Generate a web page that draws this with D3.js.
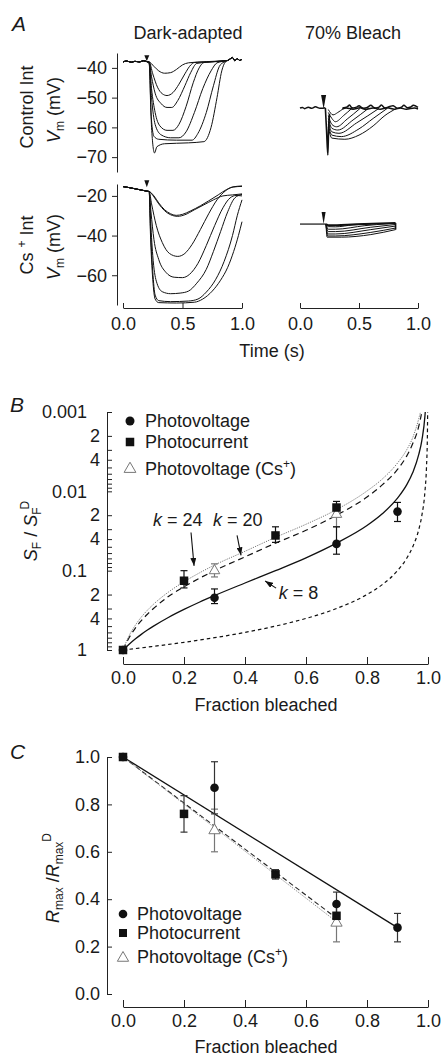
<!DOCTYPE html>
<html lang="en">
<head>
<meta charset="UTF-8">
<title>Bleaching and rod sensitivity</title>
<style>
  body { margin: 0; background: #fff; }
  svg text { font-family: "Liberation Sans", Arial, Helvetica, sans-serif; font-size: 18px; fill: #1a1a1a; }
</style>
</head>
<body>
<div id="chart-container"></div>
<script src="https://d3js.org/d3.v7.min.js"></script>
<script>
// ---------- panel A : voltage traces, [time (s), Vm (mV)] ----------
const TIME_TICKS = [0, 0.5, 1];
const CTRL_TICKS = [-40, -50, -60, -70];
const CS_TICKS = [-20, -40, -60];
const FLASH_T = 0.2;

const ctrlPre = [[0, -38], [0.03, -37.7], [0.07, -38.1], [0.1, -37.8], [0.14, -38], [0.17, -37.6], [0.2, -37.9]];
const ctrlTail = [[0.88, -37.5], [0.9, -37], [0.92, -36.5], [0.94, -37.6], [0.96, -36.9], [0.98, -37.5], [1.0, -37.1]];
const ctrlDark = [
  [[0.22, -38], [0.26, -39.5], [0.3, -41], [0.35, -41.8], [0.4, -41.6], [0.45, -40.5], [0.5, -39], [0.55, -38.3], [0.7, -37.9]],
  [[0.22, -38], [0.25, -42], [0.29, -46.5], [0.33, -48.7], [0.37, -49.3], [0.42, -48.3], [0.47, -45.5], [0.52, -42], [0.57, -39], [0.6, -38.2], [0.75, -37.9]],
  [[0.22, -38], [0.24, -43], [0.27, -48.5], [0.32, -52], [0.37, -53.3], [0.41, -53.3], [0.46, -51], [0.52, -46], [0.57, -41.5], [0.62, -38.5], [0.78, -37.9]],
  [[0.22, -38], [0.24, -47], [0.27, -55], [0.31, -59.5], [0.37, -61], [0.42, -61], [0.47, -59], [0.53, -53], [0.59, -45], [0.64, -40], [0.68, -38.2], [0.8, -37.8]],
  [[0.22, -38.5], [0.24, -50], [0.27, -59], [0.32, -62.5], [0.4, -63.5], [0.47, -63.5], [0.53, -61.5], [0.6, -55], [0.67, -47], [0.74, -41], [0.79, -38.3], [0.84, -37.8]],
  [[0.22, -38.5], [0.235, -55], [0.26, -63], [0.3, -64], [0.45, -64.3], [0.58, -64.3], [0.63, -62], [0.7, -55], [0.76, -46], [0.81, -39.5], [0.85, -38]],
  [[0.22, -38.5], [0.24, -60], [0.265, -68.6], [0.285, -66.5], [0.35, -65.5], [0.55, -65.2], [0.68, -64.8], [0.74, -60], [0.79, -50], [0.83, -41], [0.86, -38]]
];

const csPre = [[0, -15.3], [0.05, -15.8], [0.1, -16.4], [0.15, -17], [0.2, -17.6]];
const csDark = [
  [[0.22, -17.8], [0.26, -20], [0.3, -23.5], [0.35, -27], [0.4, -29], [0.45, -29.8], [0.5, -29.3], [0.57, -27.5], [0.65, -25], [0.72, -22.5], [0.8, -19.5], [0.87, -16.8], [0.93, -15.5], [1.0, -15.2]],
  [[0.22, -17.8], [0.26, -20.5], [0.3, -24], [0.35, -27.5], [0.4, -29.5], [0.46, -30.3], [0.52, -29.5], [0.6, -27], [0.68, -24.5], [0.76, -22], [0.84, -20], [0.92, -19.5], [1.0, -19]],
  [[0.22, -17.8], [0.24, -24], [0.28, -35], [0.33, -43.5], [0.39, -49], [0.46, -50.5], [0.52, -49], [0.58, -44.5], [0.65, -37], [0.72, -29], [0.79, -22], [0.86, -17.5], [0.92, -15.5], [1.0, -15]],
  [[0.22, -17.8], [0.235, -28], [0.26, -42], [0.3, -52], [0.36, -58.5], [0.43, -61], [0.5, -61.2], [0.56, -59.5], [0.63, -54], [0.7, -45], [0.77, -35], [0.84, -26], [0.9, -21], [0.95, -19.8], [1.0, -20]],
  [[0.22, -17.8], [0.23, -30], [0.25, -50], [0.28, -63], [0.33, -68.3], [0.4, -69.3], [0.48, -69], [0.55, -68], [0.62, -64], [0.7, -57], [0.76, -48], [0.82, -38], [0.88, -28], [0.94, -21], [1.0, -19.2]],
  [[0.22, -17.8], [0.23, -35], [0.25, -58], [0.27, -70], [0.3, -72.8], [0.4, -73.3], [0.55, -73], [0.63, -72], [0.7, -68.5], [0.78, -62], [0.85, -53], [0.92, -40], [0.96, -30], [1.0, -22]],
  [[0.22, -17.8], [0.23, -38], [0.25, -62], [0.27, -72], [0.3, -73.8], [0.45, -74], [0.6, -73.6], [0.67, -72], [0.75, -68], [0.82, -62.5], [0.88, -56], [0.93, -48], [0.97, -40], [1.0, -33]]
];

// two overlapping noisy baselines of the 70% bleach recordings
const bleachNoiseA = [[0, -53.5], [0.02, -53.3], [0.04, -53.7], [0.07, -53.2], [0.1, -53.6], [0.13, -53.1], [0.17, -53.6], [0.215, -53.4]];
const bleachNoiseB = [[0.36, -53.5], [0.4, -53.1], [0.42, -52.5], [0.44, -53.4], [0.48, -53.2], [0.5, -52.7], [0.53, -53.5], [0.57, -53.3], [0.6, -52.6],
  [0.63, -53.4], [0.67, -53.2], [0.69, -52.5], [0.72, -53.5], [0.76, -53], [0.79, -52.7], [0.82, -53.5], [0.86, -53.2], [0.88, -52.6],
  [0.91, -53.4], [0.94, -53.1], [0.96, -52.6], [1.0, -53.3]];
const bleachNoiseC = [[0.36, -53.8], [0.39, -53.5], [0.45, -53.9], [0.51, -53.4], [0.55, -53.9], [0.62, -53.5], [0.68, -53.9], [0.74, -53.4],
  [0.8, -53.9], [0.85, -53.5], [0.9, -53.9], [0.97, -53.5], [1.0, -53.8]];
const bleachSpike = [[0.215, -53.5], [0.225, -61], [0.236, -69.3], [0.242, -61], [0.25, -55.5]];
const bleachCtrl = [
  [[0.24, -54], [0.28, -55.8], [0.32, -55], [0.37, -53.6]],
  [[0.24, -55], [0.27, -57], [0.3, -58.1], [0.37, -56], [0.44, -53.6]],
  [[0.24, -56], [0.27, -59], [0.31, -59.8], [0.4, -57.2], [0.51, -53.6]],
  [[0.24, -57], [0.27, -60.3], [0.32, -60.9], [0.45, -57.5], [0.58, -53.6]],
  [[0.24, -58], [0.27, -61.5], [0.33, -62], [0.48, -58.5], [0.67, -53.6]],
  [[0.24, -59], [0.27, -62.6], [0.35, -63.1], [0.5, -60.5], [0.62, -57], [0.74, -53.6]],
  [[0.24, -60], [0.27, -63.6], [0.38, -64], [0.5, -62.6], [0.62, -59.5], [0.72, -56], [0.82, -53.6]]
];

const csBleachPre = [[0, -34.2], [0.22, -34.2]];
const csBleachTop = [[0.22, -34.2], [0.24, -34.8], [0.4, -34.5], [0.81, -33.7]];
const csBleach = [
  [[0.22, -34.2], [0.24, -35.5], [0.3, -35.6], [0.45, -34.6], [0.6, -34.1]],
  [[0.22, -34.2], [0.24, -36.8], [0.3, -36.8], [0.55, -35], [0.75, -34]],
  [[0.22, -34.2], [0.24, -38], [0.3, -38], [0.6, -35.8], [0.81, -34.4]],
  [[0.22, -34.2], [0.235, -39.2], [0.3, -39.2], [0.6, -37], [0.81, -35.2]],
  [[0.22, -34.2], [0.235, -40.2], [0.3, -40.2], [0.6, -38.4], [0.81, -36.2]],
  [[0.22, -34.2], [0.23, -40.8], [0.35, -40.8], [0.6, -39.5], [0.81, -37]]
];
const csBleachEnd = [[0.81, -33.7], [0.81, -37]];

// ---------- panel B : S_F / S_F^D against fraction bleached ----------
const FRACTION_TICKS = [0, 0.2, 0.4, 0.6, 0.8, 1.0];
const SENS_TICKS = [0.001, 0.002, 0.003, 0.004, 0.005, 0.006, 0.007, 0.008, 0.009,
  0.01, 0.02, 0.03, 0.04, 0.05, 0.06, 0.07, 0.08, 0.09,
  0.1, 0.2, 0.3, 0.4, 0.5, 0.6, 0.7, 0.8, 0.9, 1];
const SENS_LABELS = [[0.001, "0.001"], [0.002, "2"], [0.004, "4"], [0.01, "0.01"], [0.02, "2"], [0.04, "4"],
  [0.1, "0.1"], [0.2, "2"], [0.4, "4"], [1, "1"]];
const DECADES = [0.001, 0.01, 0.1, 1];

const pvFrac = [0, 0.3, 0.7, 0.9];
const pvSens = [1, 0.22, 0.046, 0.018];
const pvSensLo = [null, 0.17, 0.028, 0.0138];
const pvSensHi = [null, 0.26, 0.062, 0.024];
const pcFrac = [0, 0.2, 0.5, 0.7];
const pcSens = [1, 0.134, 0.036, 0.016];
const pcSensLo = [null, 0.1, 0.028, 0.0134];
const pcSensHi = [null, 0.165, 0.044, 0.019];
const csFrac = [0.3, 0.7];
const csSens = [0.1, 0.0195];
const csSensLo = [0.082, 0.0165];
const csSensHi = [0.12, 0.028];

const curveFrac = [0, 0.01, 0.02, 0.04, 0.06, 0.08, 0.1, 0.15, 0.2, 0.25, 0.3, 0.4, 0.5, 0.6, 0.7, 0.8, 0.85, 0.9, 0.93, 0.95, 0.97, 0.98, 0.99, 0.995, 0.998, 0.9995];
const curveK24 = [1, 0.8, 0.66, 0.49, 0.385, 0.315, 0.265, 0.185, 0.138, 0.107, 0.085, 0.057, 0.038, 0.026, 0.017, 0.0099, 0.007, 0.0044, 0.003, 0.0021, 0.0012, 0.00082, 0.00041, 0.0002, 0.00008, 0.00002];
const curveK20 = [1, 0.825, 0.7, 0.533, 0.427, 0.354, 0.3, 0.21, 0.16, 0.125, 0.1, 0.067, 0.045, 0.031, 0.02, 0.0118, 0.0083, 0.0053, 0.0036, 0.0025, 0.0015, 0.00097, 0.00048, 0.00024, 0.0001, 0.000025];
const curveK8 = [1, 0.917, 0.845, 0.727, 0.635, 0.561, 0.5, 0.386, 0.308, 0.25, 0.206, 0.143, 0.1, 0.069, 0.045, 0.027, 0.0192, 0.0122, 0.0083, 0.0058, 0.0034, 0.00226, 0.00112, 0.00056, 0.00022, 0.000056];
const curveK0 = [1, 0.99, 0.98, 0.96, 0.94, 0.92, 0.9, 0.85, 0.8, 0.75, 0.7, 0.6, 0.5, 0.4, 0.3, 0.2, 0.15, 0.1, 0.07, 0.05, 0.03, 0.02, 0.01, 0.005, 0.002, 0.0005];

// annotation anchors in data units [fraction, sensitivity]
const kLabels = [["24", 0.098, 0.0277], ["20", 0.295, 0.0277], ["8", 0.511, 0.229]];
const kArrows = [[[0.223, 0.033], [0.233, 0.087]], [[0.374, 0.036], [0.387, 0.064]], [[0.502, 0.166], [0.466, 0.135]]];

// ---------- panel C : Rmax / Rmax^D ----------
const RATIO_TICKS = [0, 0.2, 0.4, 0.6, 0.8, 1.0];
const pvRmax = [1.0, 0.87, 0.38, 0.28];
const pvRmaxErr = [0.01, 0.11, 0.05, 0.06];
const pcRmax = [1.0, 0.76, 0.505, 0.33];
const pcRmaxErr = [0.01, 0.077, 0.02, 0.04];
const csRmax = [0.69, 0.3];
const csRmaxErr = [0.09, 0.08];
const pvFitFrac = [0, 0.9], pvFitR = [1.0, 0.28];
const pcFitFrac = [0, 0.7], pcFitR = [1.0, 0.32];
const csFitFrac = [0, 0.7], csFitR = [1.0, 0.305];

// ---------- drawing ----------
const svg = d3.select("#chart-container").append("svg")
  .attr("width", 441).attr("height", 1056);

const defs = svg.append("defs");
defs.append("marker").attr("id", "arrow")
  .attr("viewBox", "0 0 8 6").attr("refX", 8).attr("refY", 3)
  .attr("markerWidth", 8).attr("markerHeight", 6)
  .attr("markerUnits", "userSpaceOnUse").attr("orient", "auto")
  .append("path").attr("d", "M0,0L8,3L0,6Z").attr("fill", "#111");
defs.append("clipPath").attr("id", "clipB")
  .append("rect").attr("x", 107).attr("y", 412).attr("width", 330).attr("height", 250);

function styleAxis(g) {
  g.selectAll("path, line").attr("stroke", "#222").attr("stroke-width", 1);
}

function addText(g, x, y, parts, opts = {}) {
  const t = g.append("text").attr("x", x).attr("y", y)
    .attr("text-anchor", opts.anchor || "start");
  if (opts.rotate) t.attr("transform", `rotate(-90, ${x}, ${y})`);
  if (opts.size) t.style("font-size", opts.size + "px");
  parts.forEach(p => {
    const s = t.append("tspan").text(p.t);
    if (p.i) s.style("font-style", "italic");
    if (p.s) s.style("font-size", p.s + "px");
    if (p.dy) s.attr("dy", p.dy);
    if (p.dx) s.attr("dx", p.dx);
  });
  return t;
}

function drawTraces(g, traces, x, y, width, curve = d3.curveMonotoneX) {
  const line = d3.line().x(d => x(d[0])).y(d => y(d[1])).curve(curve);
  traces.forEach(tr => {
    g.append("path").datum(tr)
      .attr("fill", "none").attr("stroke", "#111")
      .attr("stroke-width", width).attr("stroke-linejoin", "round")
      .attr("d", line);
  });
}

function flashMark(g, x, yTip, h, w) {
  g.append("path")
    .attr("d", `M${x - w / 2},${yTip - h}L${x + w / 2},${yTip - h}L${x},${yTip}Z`)
    .attr("fill", "#111");
}

// ----- Panel A -----
const gA = svg.append("g");
const xDarkA = d3.scaleLinear().domain([0, 1]).range([123, 242]);
const xBleachA = d3.scaleLinear().domain([0, 1]).range([300, 418]);
const yCtrl = d3.scaleLinear().domain([-75, -35]).range([172, 53]);
const yCs = d3.scaleLinear().domain([-75, -14]).range([305, 184]);

gA.append("g").attr("transform", "translate(117,0)")
  .call(d3.axisLeft(yCtrl).tickValues(CTRL_TICKS).tickSize(5).tickSizeOuter(0).tickPadding(5))
  .call(styleAxis);
gA.append("g").attr("transform", "translate(117,0)")
  .call(d3.axisLeft(yCs).tickValues(CS_TICKS).tickSize(5).tickSizeOuter(0).tickPadding(5))
  .call(styleAxis);
[xDarkA, xBleachA].forEach(sc => {
  gA.append("g").attr("transform", "translate(0,308)")
    .call(d3.axisBottom(sc).tickValues(TIME_TICKS).tickSize(-5).tickSizeOuter(0)
      .tickPadding(9).tickFormat(d3.format(".1f")))
    .call(styleAxis);
});

drawTraces(gA, ctrlDark.map(tr => ctrlPre.concat(tr, ctrlTail)), xDarkA, yCtrl, 1);
drawTraces(gA, csDark.map(tr => csPre.concat(tr)), xDarkA, yCs, 1);
drawTraces(gA, [bleachNoiseA, bleachNoiseB, bleachNoiseC], xBleachA, yCtrl, 1.5, d3.curveCatmullRom);
drawTraces(gA, [bleachSpike], xBleachA, yCtrl, 1.6);
drawTraces(gA, bleachCtrl, xBleachA, yCtrl, 1);
drawTraces(gA, [csBleachPre], xBleachA, yCs, 1.2);
drawTraces(gA, [csBleachTop], xBleachA, yCs, 2);
drawTraces(gA, csBleach, xBleachA, yCs, 1);
drawTraces(gA, [csBleachEnd], xBleachA, yCs, 1.6);

flashMark(gA, xDarkA(FLASH_T), yCtrl(-37.8), 6, 5);
flashMark(gA, xDarkA(FLASH_T), yCs(-17.6) - 4, 7, 5);
flashMark(gA, xBleachA(FLASH_T), yCtrl(-53.5) + 1, 14, 5);
flashMark(gA, xBleachA(FLASH_T), yCs(-34.2), 12, 4);

addText(gA, 12, 31, [{ t: "A", i: true }], { size: 21 });
addText(gA, 188, 39, [{ t: "Dark-adapted" }], { anchor: "middle" });
addText(gA, 353, 39, [{ t: "70% Bleach" }], { anchor: "middle" });
addText(gA, 272, 357, [{ t: "Time (s)" }], { anchor: "middle" });
addText(gA, 33, 107, [{ t: "Control Int" }], { anchor: "middle", rotate: true });
addText(gA, 60, 110, [{ t: "V", i: true }, { t: "m", s: 12, dy: 4 }, { t: " (mV)", dy: -4 }], { anchor: "middle", rotate: true });
addText(gA, 33, 245, [{ t: "Cs " }, { t: "+", s: 12, dy: -7 }, { t: " Int", dy: 7 }], { anchor: "middle", rotate: true });
addText(gA, 60, 247, [{ t: "V", i: true }, { t: "m", s: 12, dy: 4 }, { t: " (mV)", dy: -4 }], { anchor: "middle", rotate: true });

// ----- Panel B -----
const gB = svg.append("g");
const xB = d3.scaleLinear().domain([0, 1]).range([123, 428]);
const yB = d3.scaleLog().domain([1, 0.001]).range([650, 412]);
const labelMap = new Map(SENS_LABELS.map(d => [d[0].toPrecision(3), d[1]]));

gB.append("g").attr("transform", "translate(0,664)")
  .call(d3.axisBottom(xB).tickValues(FRACTION_TICKS).tickSize(-7).tickSizeOuter(0)
    .tickPadding(7).tickFormat(d3.format(".1f")))
  .call(styleAxis);
const yAxB = gB.append("g").attr("transform", "translate(107,0)")
  .call(d3.axisLeft(yB).tickValues(SENS_TICKS).tickSize(-5).tickSizeOuter(0)
    .tickPadding(7).tickFormat(d => labelMap.get(d.toPrecision(3)) || ""))
  .call(styleAxis);
yAxB.selectAll(".tick").filter(d => DECADES.includes(d)).select("text").attr("x", -20);

const curveLine = vals => d3.line()
  .x((d, i) => xB(curveFrac[i])).y(d => yB(d)).curve(d3.curveMonotoneX)(vals);
const gCurves = gB.append("g").attr("clip-path", "url(#clipB)");
gCurves.append("path").attr("d", curveLine(curveK0)).attr("fill", "none")
  .attr("stroke", "#111").attr("stroke-width", 1.2).attr("stroke-dasharray", "3.5,3");
gCurves.append("path").attr("d", curveLine(curveK8)).attr("fill", "none")
  .attr("stroke", "#111").attr("stroke-width", 1.3);
gCurves.append("path").attr("d", curveLine(curveK20)).attr("fill", "none")
  .attr("stroke", "#111").attr("stroke-width", 1.2).attr("stroke-dasharray", "6,4");
gCurves.append("path").attr("d", curveLine(curveK24)).attr("fill", "none")
  .attr("stroke", "#777").attr("stroke-width", 1).attr("stroke-dasharray", "1.2,1.2");

function errBar(g, x, y1, y2, color) {
  g.append("line").attr("x1", x).attr("x2", x).attr("y1", y1).attr("y2", y2)
    .attr("stroke", color).attr("stroke-width", 1.2);
  [y1, y2].forEach(yy => g.append("line").attr("x1", x - 3.5).attr("x2", x + 3.5)
    .attr("y1", yy).attr("y2", yy).attr("stroke", color).attr("stroke-width", 1.2));
}
function circle(g, x, y, r) { g.append("circle").attr("cx", x).attr("cy", y).attr("r", r).attr("fill", "#111"); }
function square(g, x, y, s) { g.append("rect").attr("x", x - s / 2).attr("y", y - s / 2).attr("width", s).attr("height", s).attr("fill", "#111"); }
function triangle(g, x, y, size) {
  g.append("path").attr("d", d3.symbol(d3.symbolTriangle, size)())
    .attr("transform", `translate(${x},${y})`)
    .attr("fill", "#fff").attr("stroke", "#777").attr("stroke-width", 1);
}

csFrac.forEach((f, i) => errBar(gB, xB(f), yB(csSensLo[i]), yB(csSensHi[i]), "#777"));
pvFrac.forEach((f, i) => { if (pvSensLo[i] !== null) errBar(gB, xB(f), yB(pvSensLo[i]), yB(pvSensHi[i]), "#111"); });
pcFrac.forEach((f, i) => { if (pcSensLo[i] !== null) errBar(gB, xB(f), yB(pcSensLo[i]), yB(pcSensHi[i]), "#111"); });
csFrac.forEach((f, i) => triangle(gB, xB(f), yB(csSens[i]), 48));
pvFrac.forEach((f, i) => circle(gB, xB(f), yB(pvSens[i]), 4.3));
pcFrac.forEach((f, i) => square(gB, xB(f), yB(pcSens[i]), 8.5));

kLabels.forEach(d => addText(gB, xB(d[1]), yB(d[2]), [{ t: "k", i: true }, { t: " = " + d[0] }]));
kArrows.forEach(a => gB.append("line")
  .attr("x1", xB(a[0][0])).attr("y1", yB(a[0][1]))
  .attr("x2", xB(a[1][0])).attr("y2", yB(a[1][1]))
  .attr("stroke", "#111").attr("stroke-width", 1.1).attr("marker-end", "url(#arrow)"));

circle(gB, 130, 421, 4.5);
square(gB, 130, 442, 8.5);
triangle(gB, 130, 469, 60);
addText(gB, 145, 427, [{ t: "Photovoltage" }]);
addText(gB, 145, 448, [{ t: "Photocurrent" }]);
addText(gB, 145, 475, [{ t: "Photovoltage (Cs" }, { t: "+", s: 12, dy: -7 }, { t: ")", dy: 7 }]);

addText(gB, 10, 412, [{ t: "B", i: true }], { size: 21 });
addText(gB, 266, 711, [{ t: "Fraction bleached" }], { anchor: "middle" });
addText(gB, 37, 531, [{ t: "S", i: true }, { t: "F", s: 12, dy: 4 }, { t: " / ", dy: -4 },
  { t: "S", i: true }, { t: "F", s: 12, dy: 4 }, { t: "D", s: 12, dy: -12, dx: -2 }],
  { anchor: "middle", rotate: true });

// ----- Panel C -----
const gC = svg.append("g");
const xC = d3.scaleLinear().domain([0, 1]).range([123, 428]);
const yC = d3.scaleLinear().domain([0, 1]).range([994, 757]);

gC.append("g").attr("transform", "translate(0,1007)")
  .call(d3.axisBottom(xC).tickValues(FRACTION_TICKS).tickSize(-7).tickSizeOuter(0)
    .tickPadding(7).tickFormat(d3.format(".1f")))
  .call(styleAxis);
gC.append("g").attr("transform", "translate(107,0)")
  .call(d3.axisLeft(yC).tickValues(RATIO_TICKS).tickSize(-5).tickSizeOuter(0)
    .tickPadding(7).tickFormat(d3.format(".1f")))
  .call(styleAxis);

const fitLine = (fx, fy) => d3.line().x((d, i) => xC(fx[i])).y(d => yC(d))(fy);
gC.append("path").attr("d", fitLine(pvFitFrac, pvFitR)).attr("fill", "none")
  .attr("stroke", "#111").attr("stroke-width", 1.3);
gC.append("path").attr("d", fitLine(pcFitFrac, pcFitR)).attr("fill", "none")
  .attr("stroke", "#222").attr("stroke-width", 1.1).attr("stroke-dasharray", "5,3");
gC.append("path").attr("d", fitLine(csFitFrac, csFitR)).attr("fill", "none")
  .attr("stroke", "#888").attr("stroke-width", 1).attr("stroke-dasharray", "1.2,1.2");

csFrac.forEach((f, i) => errBar(gC, xC(f), yC(csRmax[i] - csRmaxErr[i]), yC(csRmax[i] + csRmaxErr[i]), "#777"));
pvFrac.forEach((f, i) => errBar(gC, xC(f), yC(pvRmax[i] - pvRmaxErr[i]), yC(pvRmax[i] + pvRmaxErr[i]), "#333"));
pcFrac.forEach((f, i) => errBar(gC, xC(f), yC(pcRmax[i] - pcRmaxErr[i]), yC(pcRmax[i] + pcRmaxErr[i]), "#333"));
csFrac.forEach((f, i) => triangle(gC, xC(f), yC(csRmax[i]), 55));
pvFrac.forEach((f, i) => circle(gC, xC(f), yC(pvRmax[i]), 4.3));
pcFrac.forEach((f, i) => square(gC, xC(f), yC(pcRmax[i]), 8.5));

circle(gC, 123, 914, 4.3);
square(gC, 123, 933, 8);
triangle(gC, 123, 958, 55);
addText(gC, 137, 920, [{ t: "Photovoltage" }]);
addText(gC, 137, 939, [{ t: "Photocurrent" }]);
addText(gC, 137, 963, [{ t: "Photovoltage (Cs" }, { t: "+", s: 12, dy: -7 }, { t: ")", dy: 7 }]);

addText(gC, 10, 759, [{ t: "C", i: true }], { size: 21 });
addText(gC, 266, 1053, [{ t: "Fraction bleached" }], { anchor: "middle" });
addText(gC, 59, 878, [{ t: "R", i: true }, { t: "max", s: 12, dy: 4 }, { t: " /", dy: -4 },
  { t: "R", i: true }, { t: "max", s: 12, dy: 4 }, { t: "D", s: 12, dy: -12 }],
  { anchor: "middle", rotate: true });
</script>
</body>
</html>
